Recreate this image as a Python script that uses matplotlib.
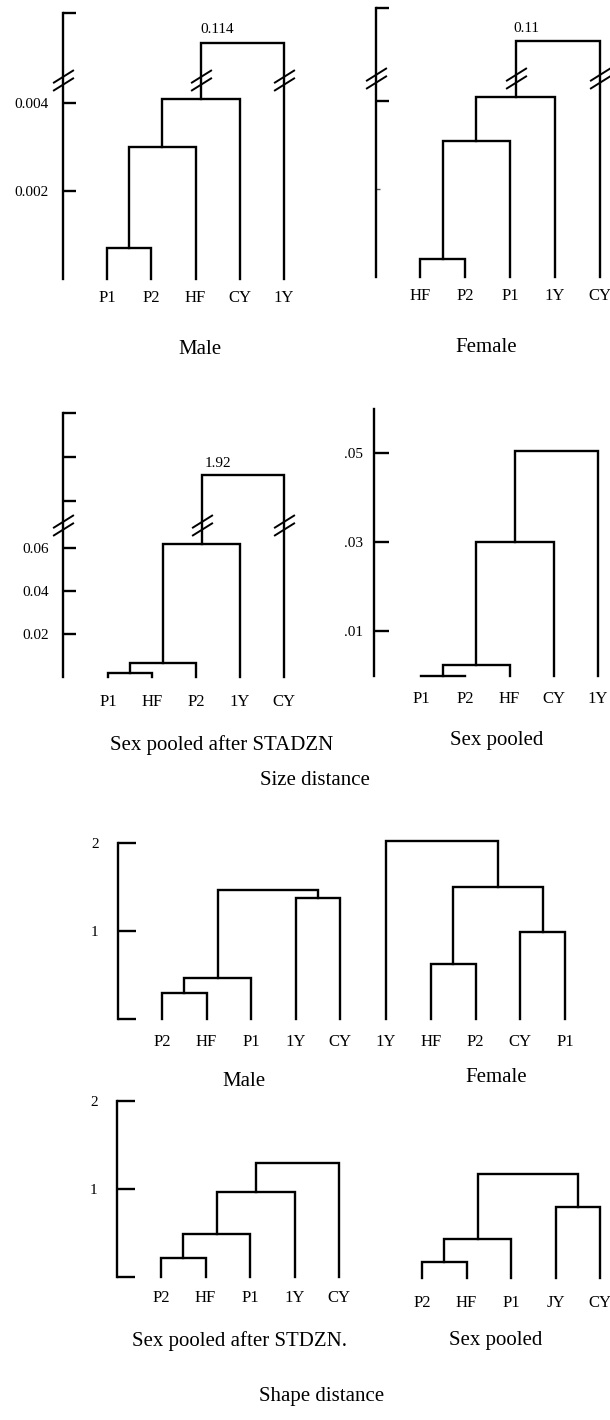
import numpy as np
import matplotlib
matplotlib.use("Agg")
import matplotlib.pyplot as plt
from matplotlib.path import Path

plt.rcParams['font.family'] = ['Liberation Serif', 'DejaVu Serif']

# ---------------- data ----------------
# merges: (left cluster, right cluster, height); clusters >= 5 are earlier merges
size_male_leaves = ["P1", "P2", "HF", "CY", "1Y"]
size_male_merges = [(0, 1, 0.0007), (5, 2, 0.0030), (6, 3, 0.0041), (7, 4, 0.114)]
size_male_ticks = [0.002, 0.004, 0.12]
size_male_ticklabels = ["0.002", "0.004", ""]
size_male_top_label = "0.114"

size_female_leaves = ["HF", "P2", "P1", "1Y", "CY"]
size_female_merges = [(0, 1, 0.0004), (5, 2, 0.0031), (6, 3, 0.0041), (7, 4, 0.11)]
size_female_ticks = [0.004, 0.12]
size_female_ticklabels = ["", ""]
size_female_faint_ticks = [0.002]
size_female_top_label = "0.11"

size_std_leaves = ["P1", "HF", "P2", "1Y", "CY"]
size_std_merges = [(0, 1, 0.0020), (5, 2, 0.0065), (6, 3, 0.062), (7, 4, 1.92)]
size_std_ticks = [0.02, 0.04, 0.06, 1.8, 2.0, 2.2]
size_std_ticklabels = ["0.02", "0.04", "0.06", "", "", ""]
size_std_top_label = "1.92"

size_pool_leaves = ["P1", "P2", "HF", "CY", "1Y"]
size_pool_merges = [(0, 1, 0.0), (5, 2, 0.0024), (6, 3, 0.030), (7, 4, 0.0505)]
size_pool_ticks = [0.01, 0.03, 0.05]
size_pool_ticklabels = [".01", ".03", ".05"]

shape_male_leaves = ["P2", "HF", "P1", "1Y", "CY"]
shape_male_merges = [(0, 1, 0.30), (5, 2, 0.47), (3, 4, 1.37), (6, 7, 1.47)]

shape_female_leaves = ["1Y", "HF", "P2", "CY", "P1"]
shape_female_merges = [(1, 2, 0.625), (3, 4, 0.99), (5, 6, 1.50), (0, 7, 2.02)]

shape_std_leaves = ["P2", "HF", "P1", "1Y", "CY"]
shape_std_merges = [(0, 1, 0.22), (5, 2, 0.49), (6, 3, 0.97), (7, 4, 1.30)]

shape_pool_leaves = ["P2", "HF", "P1", "JY", "CY"]
shape_pool_merges = [(0, 1, 0.18), (5, 2, 0.44), (3, 4, 0.81), (6, 7, 1.19)]

shape_ticks = [0, 1, 2]
shape_ticklabels = ["", "1", "2"]

# ---------------- drawing ----------------
W, H = 610, 1420
fig = plt.figure(figsize=(W / 100, H / 100), dpi=100)
fig.patch.set_facecolor('white')

LW = 1.7
LEAF_FS = 12
TICK_FS = 11
CAP_FS = 15

brk_marker = Path([(-1, -1.0), (1, 0.25), (-1, -0.25), (1, 1.0)],
                  [Path.MOVETO, Path.LINETO, Path.MOVETO, Path.LINETO])


def broken_scale(b, c, k):
    def fwd(y):
        y = np.asarray(y, dtype=float)
        return np.where(y <= b, y, np.where(y >= c, b + (y - c) * k, b))

    def inv(f):
        f = np.asarray(f, dtype=float)
        return np.where(f <= b, f, c + (f - b) / k)
    return fwd, inv


def add_panel(spine_px, leaf0_px, dx_px, y0_px, ytop_px, ylim, show_axis=True,
              scale=None, ticks=None, ticklabels=None, tick_len=9, label_pad=10,
              leaf_pad=8, faint=None):
    x_left = -(leaf0_px - spine_px) / dx_px
    x_right = 4.35
    width = (x_right - x_left) * dx_px
    ax = fig.add_axes([spine_px / W, 1 - y0_px / H, width / W, (y0_px - ytop_px) / H])
    ax.set_facecolor('none')
    if scale is not None:
        ax.set_yscale('function', functions=scale)
    ax.set_xlim(x_left, x_right)
    ax.set_ylim(*ylim)
    for s in ['top', 'right', 'bottom']:
        ax.spines[s].set_visible(False)
    ax.minorticks_off()
    if show_axis:
        ax.spines['left'].set_linewidth(1.7)
        ax.set_yticks(ticks)
        ax.set_yticklabels(ticklabels)
        ax.tick_params(axis='y', direction='in', length=tick_len, width=1.7,
                       pad=label_pad, labelsize=TICK_FS)
        if faint:
            ax.set_yticks(faint, minor=True)
            ax.tick_params(axis='y', which='minor', direction='in', length=3,
                           width=1.0, color='0.35')
    else:
        ax.spines['left'].set_visible(False)
        ax.set_yticks([])
    ax.tick_params(axis='x', which='both', length=0, pad=leaf_pad, labelsize=LEAF_FS)
    return ax


def draw_dendro(ax, leaves, merges):
    xs = list(range(len(leaves)))
    hs = [0.0] * len(leaves)
    for a, b, h in merges:
        ax.plot([xs[a], xs[a], xs[b], xs[b]], [hs[a], h, h, hs[b]],
                color='black', lw=LW, solid_joinstyle='miter', clip_on=False)
        xs.append((xs[a] + xs[b]) / 2)
        hs.append(h)
    ax.set_xticks(range(len(leaves)))
    ax.set_xticklabels(leaves)
    return xs, hs


def add_break(ax, merges, xs, b):
    a, c_, _ = merges[-1]
    x_left = ax.get_xlim()[0]
    ax.plot([x_left, xs[a], xs[c_]], [b, b, b], linestyle='none', marker=brk_marker,
            markersize=15, markeredgewidth=1.4, color='black', clip_on=False)


def top_label(ax, merges, xs, text, dx, dy):
    a, c_, h = merges[-1]
    ax.annotate(text, xy=((xs[a] + xs[c_]) / 2, h), xytext=(dx, dy),
                textcoords='offset pixels', ha='center', va='center', fontsize=TICK_FS)


# Size: Male
b1 = 0.00452
ax1 = add_panel(63, 107, 44.25, 279, 13, (0, 0.12), scale=broken_scale(b1, 0.1066, 0.1136),
                ticks=size_male_ticks, ticklabels=size_male_ticklabels, leaf_pad=8)
xs, hs = draw_dendro(ax1, size_male_leaves, size_male_merges)
add_break(ax1, size_male_merges, xs, b1)
top_label(ax1, size_male_merges, xs, size_male_top_label, -25, 14)

# Size: Female
b2 = 0.004523
ax2 = add_panel(376, 420, 45, 277, 8, (0, 0.12), scale=broken_scale(b2, 0.0988, 0.075),
                ticks=size_female_ticks, ticklabels=size_female_ticklabels, leaf_pad=8,
                faint=size_female_faint_ticks)
xs, hs = draw_dendro(ax2, size_female_leaves, size_female_merges)
add_break(ax2, size_female_merges, xs, b2)
top_label(ax2, size_female_merges, xs, size_female_top_label, -31, 13)

# Size: Sex pooled after STADZN
b3 = 0.0707
ax3 = add_panel(63, 108, 44, 677, 413, (0, 2.2), scale=broken_scale(b3, 1.691, 0.10233),
                ticks=size_std_ticks, ticklabels=size_std_ticklabels, leaf_pad=12)
xs, hs = draw_dendro(ax3, size_std_leaves, size_std_merges)
add_break(ax3, size_std_merges, xs, b3)
top_label(ax3, size_std_merges, xs, size_std_top_label, -25, 11)

# Size: Sex pooled
ax4 = add_panel(374, 421, 44.25, 675.5, 408.5, (0, 0.06),
                ticks=size_pool_ticks, ticklabels=size_pool_ticklabels, tick_len=11,
                label_pad=8, leaf_pad=11)
draw_dendro(ax4, size_pool_leaves, size_pool_merges)

# Shape: Male
ax5 = add_panel(118, 162, 44.5, 1019, 843, (0, 2.0), ticks=shape_ticks,
                ticklabels=shape_ticklabels, tick_len=13, label_pad=14, leaf_pad=11)
draw_dendro(ax5, shape_male_leaves, shape_male_merges)

# Shape: Female
ax6 = add_panel(341, 386, 44.75, 1019, 834, (0, 2.1), show_axis=False, leaf_pad=11)
draw_dendro(ax6, shape_female_leaves, shape_female_merges)

# Shape: Sex pooled after STDZN
ax7 = add_panel(117, 161, 44.5, 1277, 1101, (0, 2.0), ticks=shape_ticks,
                ticklabels=shape_ticklabels, tick_len=13, label_pad=14, leaf_pad=9)
draw_dendro(ax7, shape_std_leaves, shape_std_merges)

# Shape: Sex pooled
ax8 = add_panel(377, 422, 44.5, 1278, 1164, (0, 1.3), show_axis=False, leaf_pad=12)
draw_dendro(ax8, shape_pool_leaves, shape_pool_merges)


def caption(x, y, s):
    fig.text(x / W, 1 - y / H, s, ha='center', va='center', fontsize=CAP_FS)


caption(200, 350, "Male")
caption(486, 348, "Female")
caption(222, 745, "Sex pooled after STADZN")
caption(497, 741, "Sex pooled")
caption(315, 780, "Size distance")
caption(244, 1081, "Male")
caption(496, 1078, "Female")
caption(240, 1341, "Sex pooled after STDZN.")
caption(496, 1340, "Sex pooled")
caption(322, 1396, "Shape distance")

fig.savefig("out.png", dpi=100, facecolor='white')
